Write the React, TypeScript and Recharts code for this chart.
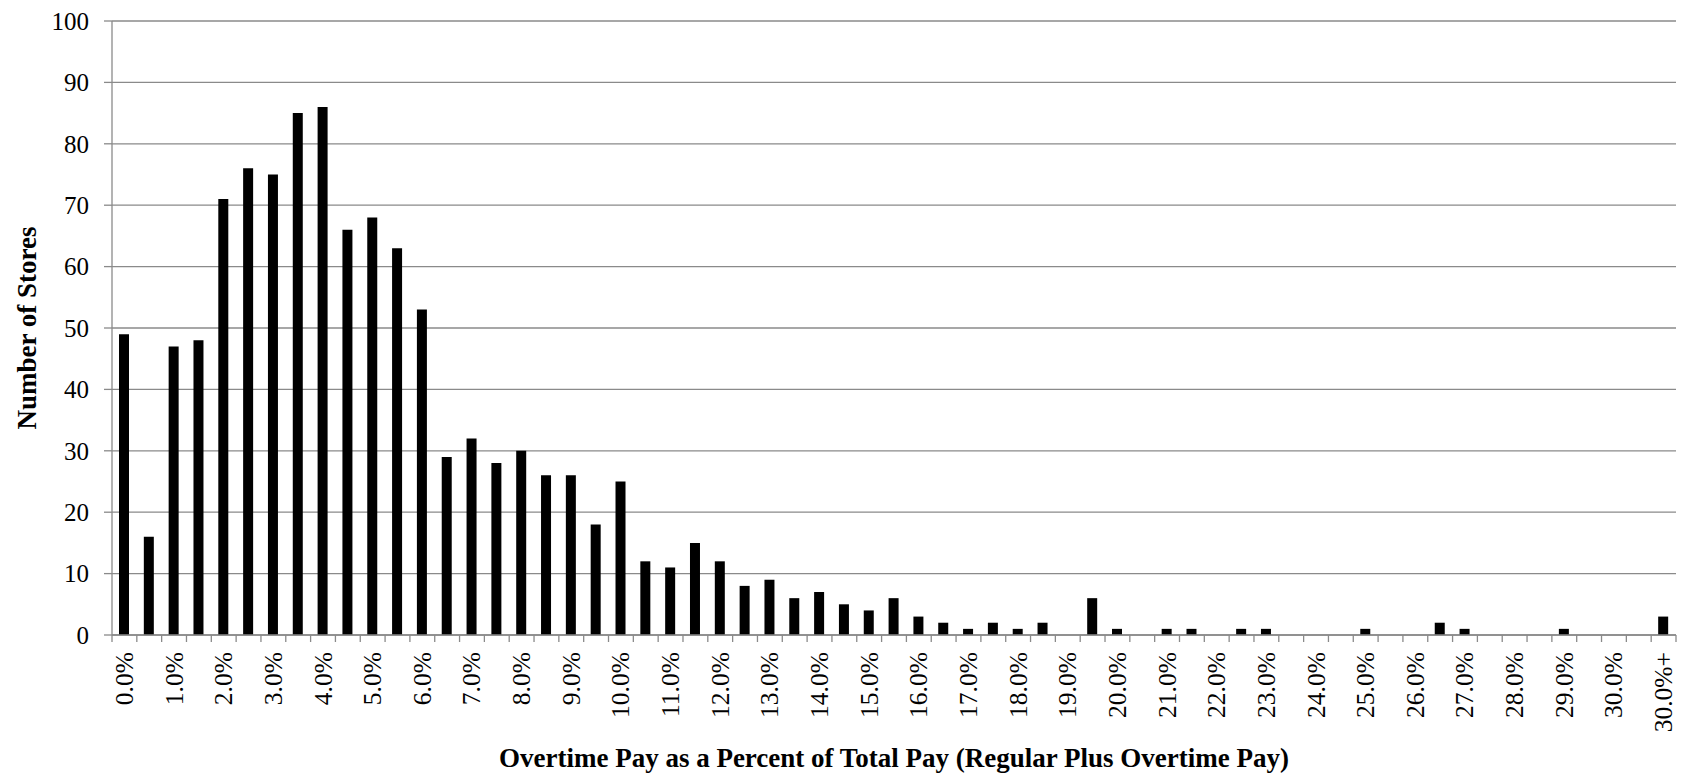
import React from 'react';
import { BarChart, Bar, XAxis, YAxis, CartesianGrid, Label } from 'recharts';

// Overtime share bins, 0.5 point wide; only every other label is drawn
const categories = [
  '0.0%', '0.5%', '1.0%', '1.5%', '2.0%', '2.5%', '3.0%', '3.5%', '4.0%', '4.5%',
  '5.0%', '5.5%', '6.0%', '6.5%', '7.0%', '7.5%', '8.0%', '8.5%', '9.0%', '9.5%',
  '10.0%', '10.5%', '11.0%', '11.5%', '12.0%', '12.5%', '13.0%', '13.5%', '14.0%', '14.5%',
  '15.0%', '15.5%', '16.0%', '16.5%', '17.0%', '17.5%', '18.0%', '18.5%', '19.0%', '19.5%',
  '20.0%', '20.5%', '21.0%', '21.5%', '22.0%', '22.5%', '23.0%', '23.5%', '24.0%', '24.5%',
  '25.0%', '25.5%', '26.0%', '26.5%', '27.0%', '27.5%', '28.0%', '28.5%', '29.0%', '29.5%',
  '30.0%', '30.5%', '30.0%+',
];

const storeCounts = [
  49, 16, 47, 48, 71, 76, 75, 85, 86, 66,
  68, 63, 53, 29, 32, 28, 30, 26, 26, 18,
  25, 12, 11, 15, 12, 8, 9, 6, 7, 5,
  4, 6, 3, 2, 1, 2, 1, 2, 0, 6,
  1, 0, 1, 1, 0, 1, 1, 0, 0, 0,
  1, 0, 0, 2, 1, 0, 0, 0, 1, 0,
  0, 0, 3,
];

const yTicks = [0, 10, 20, 30, 40, 50, 60, 70, 80, 90, 100];

const data = categories.map((bin, i) => ({ bin, stores: storeCounts[i] }));

const FONT = "'Liberation Serif', 'Times New Roman', serif";
const GRAY = '#8a8a8a';

// Category label plus tick marks on both band edges (ticks sit between bars)
const XTick = (props: any) => {
  const { x, y, payload } = props;
  const half = payload && payload.offset ? payload.offset : 12.4;
  const ty = y + 17;
  return (
    <g>
      <line x1={x - half} x2={x - half} y1={y} y2={y + 7} stroke={GRAY} strokeWidth={1.3} />
      <line x1={x + half} x2={x + half} y1={y} y2={y + 7} stroke={GRAY} strokeWidth={1.3} />
      <text
        x={x}
        y={ty}
        transform={`rotate(-90, ${x}, ${ty})`}
        textAnchor="end"
        dominantBaseline="central"
        style={{ fontFamily: FONT, fontSize: 25.5, fill: '#000' }}
      >
        {payload.value}
      </text>
    </g>
  );
};

export default function App() {
  return (
    <div
      style={{
        position: 'absolute',
        left: 0,
        top: 0,
        width: 1681,
        height: 775,
        background: '#fff',
        fontFamily: FONT,
      }}
    >
      <BarChart
        width={1681}
        height={775}
        data={data}
        margin={{ top: 21, right: 5, bottom: 0, left: 0 }}
      >
        <CartesianGrid vertical={false} stroke={GRAY} strokeWidth={1.3} />
        <XAxis
          dataKey="bin"
          interval={1}
          height={140}
          tickLine={false}
          tickSize={0}
          tickMargin={0}
          axisLine={{ stroke: GRAY, strokeWidth: 1.3 }}
          tick={(p: any) => <XTick {...p} />}
        >
          <Label
            value="Overtime Pay as a Percent of Total Pay (Regular Plus Overtime Pay)"
            position="insideBottom"
            offset={8}
            style={{ fontFamily: FONT, fontSize: 27, fontWeight: 'bold', fill: '#000' }}
          />
        </XAxis>
        <YAxis
          width={112}
          domain={[0, 100]}
          ticks={yTicks}
          interval={0}
          tickSize={8}
          tickMargin={15}
          tickLine={{ stroke: GRAY, strokeWidth: 1.3 }}
          axisLine={{ stroke: GRAY, strokeWidth: 1.3 }}
          tick={{ style: { fontFamily: FONT, fontSize: 25, fill: '#000' } }}
        >
          <Label
            value="Number of Stores"
            angle={-90}
            position="insideLeft"
            offset={26}
            style={{ fontFamily: FONT, fontSize: 27, fontWeight: 'bold', fill: '#000', textAnchor: 'middle' }}
          />
        </YAxis>
        <Bar dataKey="stores" fill="#000" barSize={10} isAnimationActive={false} />
      </BarChart>
    </div>
  );
}
